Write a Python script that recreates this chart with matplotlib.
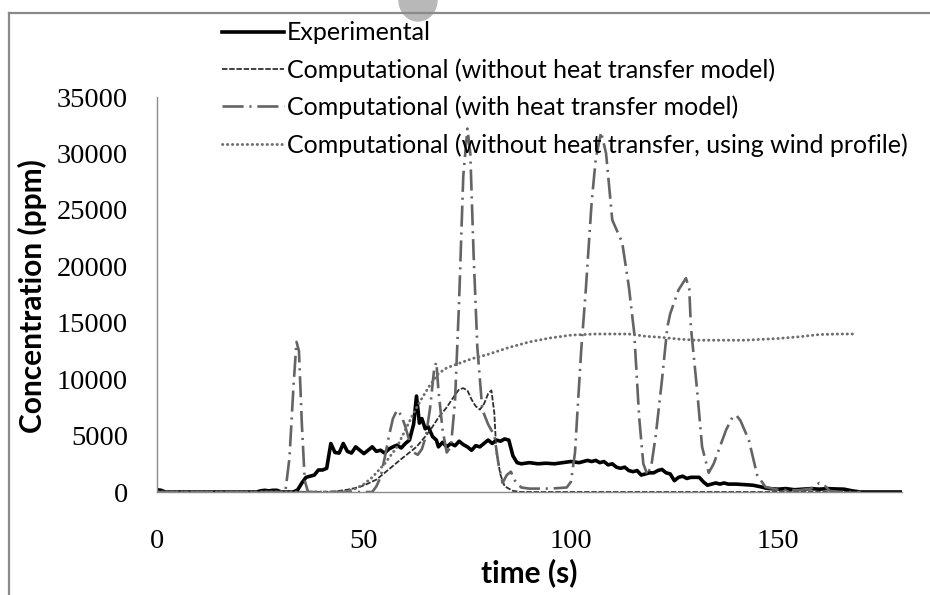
import numpy as np
import matplotlib
matplotlib.use('Agg')
import matplotlib.pyplot as plt
from matplotlib.lines import Line2D
from matplotlib.patches import Ellipse

# Experimental measurement
exp_t = [0, 1, 2, 24, 25, 26, 27, 28, 29, 30, 33, 34, 35, 36, 37, 38, 39, 40, 41, 42, 43, 44, 45, 46, 47,
         48, 49, 50, 51, 52, 53, 54, 55, 56, 57, 58, 59, 60, 61, 62, 62.7, 63.4, 64, 64.8, 65.5, 66.6,
         67.5, 68, 69, 70, 71, 72, 73, 74, 75, 76, 77, 78, 79, 80, 81, 82, 83, 84, 85, 86, 87, 88, 90,
         92, 94, 96, 98, 100, 102, 104, 105, 106, 107, 108, 109, 110, 111, 112, 113, 114, 115, 116, 117,
         118, 119, 120, 121, 122, 123, 124, 125, 126, 127, 128, 129, 130, 131, 132, 133, 134, 135, 136,
         137, 138, 140, 142, 144, 146, 147, 148, 150, 152, 154, 156, 158, 160, 162, 164, 166, 168, 170, 180]
exp_c = [200, 150, 0, 0, 100, 150, 100, 150, 150, 0, 0, 200, 800, 1300, 1400, 1500, 1950, 1950, 2100, 4300,
         3500, 3450, 4300, 3600, 3450, 4000, 3700, 3400, 3700, 4000, 3600, 3700, 3450, 3800, 4000, 4150,
         3900, 4300, 4600, 6000, 8500, 6100, 6500, 5600, 5800, 4900, 4600, 4000, 4400, 4000, 4300, 4100,
         4500, 4200, 4000, 3700, 4100, 4000, 4300, 4600, 4300, 4600, 4500, 4700, 4600, 3200, 2600, 2500,
         2600, 2500, 2550, 2500, 2600, 2700, 2600, 2800, 2700, 2800, 2600, 2700, 2400, 2500, 2200, 2100,
         2200, 1900, 1800, 1900, 1500, 1600, 1700, 1700, 1900, 2000, 1700, 1600, 1000, 1300, 1400, 1200,
         1300, 1300, 1300, 900, 600, 700, 800, 700, 800, 700, 700, 650, 600, 450, 350, 300, 250, 300, 200,
         250, 300, 250, 300, 270, 250, 100, 0, 0]

# Computational, without heat transfer model
noht_t = [0, 40, 43, 46, 49, 51, 53, 56, 58.6, 61, 62.7, 65, 66.6, 68, 70, 72, 73, 74, 75, 76, 77, 78, 79,
          80, 80.8, 81.5, 82, 83, 84, 86, 88, 170]
noht_c = [0, 0, 50, 200, 450, 750, 1100, 2000, 2800, 3500, 4000, 5000, 5800, 6600, 7500, 8600, 9100, 9200,
          9000, 8200, 7600, 7300, 7800, 8700, 9000, 7000, 3500, 1500, 500, 100, 0, 0]

# Computational, with heat transfer model
ht_t = [0, 31, 32, 33, 33.7, 34.3, 35, 35.7, 36.5, 52, 53, 54, 55, 56, 57, 58, 59, 60, 61, 62, 63, 64, 65,
        66, 67, 67.5, 68, 69, 70, 71, 72, 73, 74, 75, 75.7, 76.5, 77.4, 78.6, 80, 81.5, 82.5, 83.5, 84.5,
        85.5, 86.5, 88, 90, 95, 99, 100, 101, 101.5, 102.5, 103.6, 105, 106, 107.3, 108.5, 110, 112.4, 114,
        115.3, 116.5, 117.5, 118.5, 119.5, 120.5, 122, 123.3, 124, 126, 127.8, 128.6, 129, 130.5, 131.7,
        133.3, 134.5, 136, 137.5, 139, 140, 141, 143, 145, 147, 150, 155, 158, 160, 161.5, 162.5, 165, 170]
ht_c = [0, 0, 3000, 9500, 13300, 12500, 6000, 1000, 0, 0, 500, 1300, 3000, 4900, 6500, 7260, 6800, 5800,
        4500, 3500, 3300, 3800, 5000, 7500, 11000, 11500, 9000, 5500, 3500, 4000, 8000, 17000, 28000, 32200,
        30000, 21000, 12800, 7300, 6000, 5000, 2500, 800, 1500, 1800, 1000, 400, 300, 300, 400, 900, 3500,
        6600, 12600, 17900, 25600, 29500, 31900, 30000, 24100, 22100, 18200, 14100, 6600, 2500, 1500, 2500,
        5000, 9900, 14600, 15800, 17900, 18950, 18000, 14600, 9000, 4000, 1700, 2500, 4000, 5500, 6600,
        6800, 6300, 4600, 1500, 450, 200, 150, 300, 800, 500, 100, 0, 0]

# Computational, without heat transfer, using wind profile
wind_t = [0, 45, 48, 50, 52, 55, 58, 60, 62, 64, 66, 68, 70, 73, 76, 80, 85, 90, 95, 100, 106, 114, 118,
          122, 126, 130, 142, 150, 155, 160, 165, 169]
wind_c = [0, 0, 300, 700, 1300, 2500, 4000, 5500, 7000, 8300, 9500, 10500, 11000, 11400, 11800, 12200,
          12800, 13300, 13650, 13900, 14000, 14000, 13800, 13700, 13550, 13450, 13450, 13600, 13750, 13950,
          14000, 14000]

labels = ['Experimental',
          'Computational (without heat transfer model)',
          'Computational (with heat transfer model)',
          'Computational (without heat transfer, using wind profile)']

fig = plt.figure(figsize=(9.3, 5.95), dpi=100)
ax = fig.add_axes([157 / 930, 103 / 595, 745 / 930, 395 / 595])

ax.plot(exp_t, exp_c, color='black', lw=2.6, solid_joinstyle='round', label=labels[0])
ax.plot(noht_t, noht_c, color='#303030', lw=1.3, dashes=(3, 1), label=labels[1])
ax.plot(ht_t, ht_c, color='#646464', lw=1.9, dashes=(8, 2.2, 0.8, 2.2), label=labels[2])
ax.plot(wind_t, wind_c, color='#6e6e6e', lw=2.1, dashes=(0.1, 1.6), dash_capstyle='round', label=labels[3])

ax.set_xlim(0, 180)
ax.set_ylim(0, 35000)
ax.set_xticks([0, 50, 100, 150])
ax.set_yticks(np.arange(0, 35001, 5000))
ax.tick_params(length=0)
ax.tick_params(axis='x', pad=27)
ax.tick_params(axis='y', pad=21)
for lab in ax.get_xticklabels() + ax.get_yticklabels():
    lab.set_fontfamily('Liberation Serif')
    lab.set_fontsize(20.5)

for s in ['top', 'right']:
    ax.spines[s].set_visible(False)
for s in ['left', 'bottom']:
    ax.spines[s].set_color('#8c8c8c')
    ax.spines[s].set_linewidth(1.0)

ax.set_xlabel('time (s)', fontfamily='Lato', fontweight='bold', fontsize=21.5)
ax.set_ylabel('Concentration (ppm)', fontfamily='Lato', fontweight='bold', fontsize=21.5)
ax.xaxis.set_label_coords(0.499, -0.167)
ax.yaxis.set_label_coords(-0.147, 0.496)

leg = ax.legend(loc='upper left', bbox_to_anchor=(209 / 930, 1 - 9 / 595), bbox_transform=fig.transFigure,
                frameon=False, prop={'family': 'Lato', 'size': 18}, handlelength=2.5,
                handletextpad=0.12, labelspacing=0.55, borderpad=0)

# chart area border and grey blob at the top
fig.add_artist(Line2D([9 / 930, 1], [1 - 13 / 595, 1 - 13 / 595], color='#8a8a8a', lw=1.6))
fig.add_artist(Line2D([9 / 930, 9 / 930], [0, 1 - 13 / 595], color='#8a8a8a', lw=1.6))
fig.add_artist(Ellipse((418 / 930, 1.0), 38 / 930, 42 / 595, color='#b8b8b8', transform=fig.transFigure))

plt.savefig('out.png', dpi=100)
